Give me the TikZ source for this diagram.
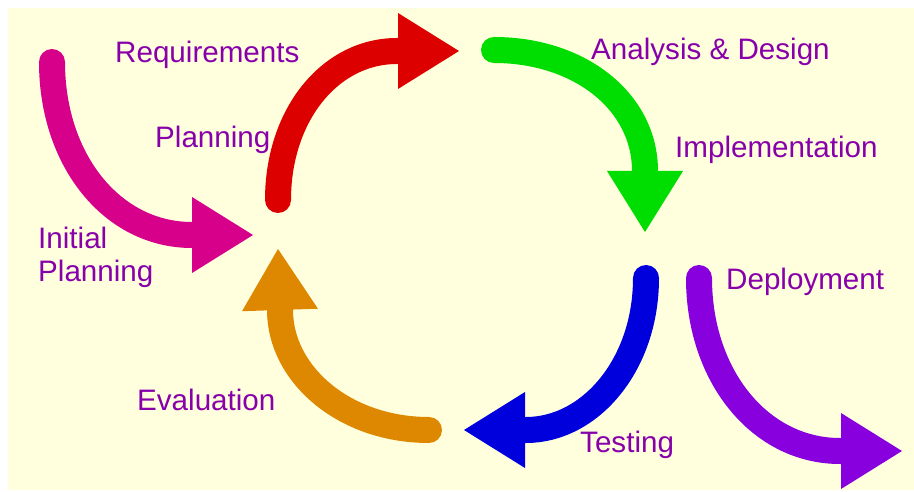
\documentclass[tikz,border=0pt]{standalone}
\usepackage{fontspec}
\setmainfont{Liberation Sans}
\usetikzlibrary{arrows.meta}

\definecolor{bgyellow}{RGB}{255,255,221}
\definecolor{txtpurple}{RGB}{136,0,170}
\definecolor{cmagenta}{RGB}{214,0,138}
\definecolor{cred}{RGB}{221,0,0}
\definecolor{cgreen}{RGB}{0,221,0}
\definecolor{cblue}{RGB}{0,0,221}
\definecolor{corange}{RGB}{221,136,0}
\definecolor{cviolet}{RGB}{136,0,221}

\tikzset{
	cyc/.style={line width=26pt, line cap=round, -{Triangle[width=76pt,length=61pt,line width=0pt]}},
	lbl/.style={text=txtpurple, font=\fontsize{29.6}{33}\selectfont, inner sep=0pt, anchor=base west}
}

\begin{document}
\begin{tikzpicture}[x=1pt,y=-1pt]
		\useasboundingbox (0,0) rectangle (914,492);
		\fill[bgyellow] (8,8) rectangle (914,490);
		% start, base of head, tip
		\coordinate (m0) at (52,62);   \coordinate (m1) at (192,235); \coordinate (m2) at (253,235);
		\coordinate (r0) at (278,200); \coordinate (r1) at (397,51);  \coordinate (r2) at (459,51);
		\coordinate (g0) at (494,50);  \coordinate (g1) at (645,171); \coordinate (g2) at (645,232);
		\coordinate (b0) at (646,278); \coordinate (b1) at (526,430); \coordinate (b2) at (464,430);
		\coordinate (o0) at (429,430); \coordinate (o1) at (280,310); \coordinate (o2) at (278,249);
		\coordinate (v0) at (699,278); \coordinate (v1) at (840,451); \coordinate (v2) at (902,451);
		\draw[cyc, cmagenta] (m0) .. controls (52,160) and (112,235) .. (m1) -- (m2);
		\draw[cyc, cred] (r0) .. controls (278,115) and (330,51) .. (r1) -- (r2);
		\draw[cyc, cgreen] (g0) .. controls (580,50) and (645,102) .. (g1) -- (g2);
		\draw[cyc, cblue] (b0) .. controls (646,365) and (590,430) .. (b1) -- (b2);
		\draw[cyc, corange] (o0) .. controls (344,430) and (280,374) .. (o1) -- (o2);
		\draw[cyc, cviolet] (v0) .. controls (699,376) and (760,451) .. (v1) -- (v2);
		% labels
		\node[lbl] (req) at (115,63) {Requirements};
		\node[lbl] (plan) at (155,148) {Planning};
		\node[lbl, anchor=north west, align=left] (init) at (38,227) {Initial\\Planning};
		\node[lbl] (anal) at (591,60) {Analysis \& Design};
		\node[lbl] (impl) at (675,158) {Implementation};
		\node[lbl] (depl) at (726,290) {Deployment};
		\node[lbl] (test) at (580,452) {Testing};
		\node[lbl] (eval) at (137,410) {Evaluation};
\end{tikzpicture}
\end{document}
